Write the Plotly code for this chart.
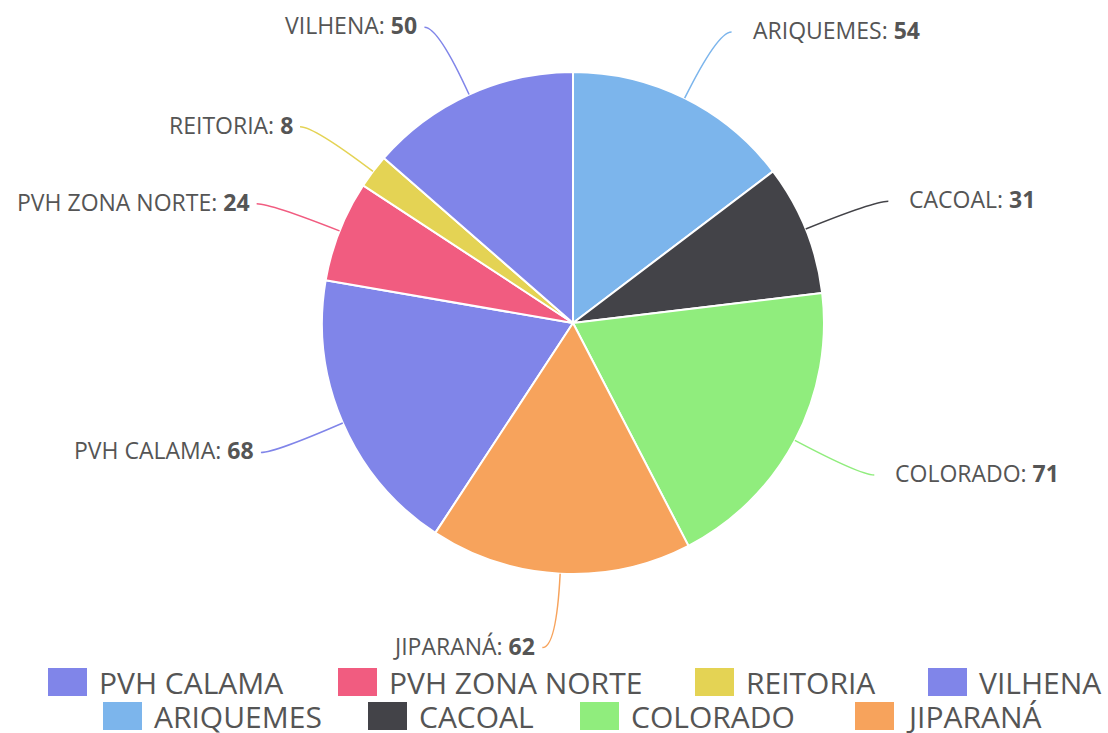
import math
import plotly.graph_objects as go

# ---------------- data ----------------
labels = ["PVH CALAMA", "PVH ZONA NORTE", "REITORIA", "VILHENA",
          "ARIQUEMES", "CACOAL", "COLORADO", "JIPARANÁ"]
values = [68, 24, 8, 50, 54, 31, 71, 62]
colors = ["#8085e9", "#f15c80", "#e4d354", "#8085e9",
          "#7cb5ec", "#434348", "#90ed7d", "#f7a35c"]
first_at_top = "ARIQUEMES"

# ---------------- layout constants (pixels) ----------------
W, H = 1108, 733
CX, CY, R = 573, 323, 251
LEAD1, LEAD2 = 74, 14
GAP_RIGHT, GAP_LEFT = 19, 5
LABEL_FONT = "Open Sans, DejaVu Sans, sans-serif"
TEXT_COLOR = "#555555"

legend_rows = [[0, 1, 2, 3], [4, 5, 6, 7]]
legend_row_y = [682, 716]
legend_x = [[48, 338, 695, 928], [103, 368, 580, 855]]
SQ_W, SQ_H = 39, 28


def px(x):
    return x / W


def py(y):
    return 1 - y / H


total = sum(values)
idx0 = labels.index(first_at_top)
before = sum(values[:idx0])
rotation = -before / total * 360.0

fig = go.Figure()
fig.add_trace(go.Pie(
    labels=labels,
    values=values,
    sort=False,
    direction="clockwise",
    rotation=rotation,
    marker=dict(colors=colors, line=dict(color="white", width=2)),
    textinfo="none",
    showlegend=False,
    domain=dict(x=[px(CX - R), px(CX + R)], y=[py(CY + R), py(CY - R)]),
))

shapes = []
annotations = []
cum = 0.0
for lab, val, col in zip(labels, values, colors):
    mid = rotation + (cum + val / 2) / total * 360.0
    cum += val
    a = math.radians(mid)
    s, c = math.sin(a), math.cos(a)
    x0, y0 = CX + R * s, CY - R * c
    x1, y1 = CX + (R + LEAD1) * s, CY - (R + LEAD1) * c
    sign = 1 if s >= 0 else -1
    x2, y2 = x1 + sign * LEAD2, y1
    path = "M {:.5f},{:.5f} Q {:.5f},{:.5f} {:.5f},{:.5f}".format(
        px(x0), py(y0), px(x1), py(y1), px(x2), py(y2))
    shapes.append(dict(type="path", xref="paper", yref="paper", path=path,
                       line=dict(color=col, width=1.5)))
    gap = GAP_RIGHT if sign > 0 else GAP_LEFT
    annotations.append(dict(
        x=px(x2 + sign * gap), y=py(y2 - 2), xref="paper", yref="paper",
        xanchor="left" if sign > 0 else "right", yanchor="middle",
        text="{}: <b>{}</b>".format(lab, val), showarrow=False,
        font=dict(family=LABEL_FONT, size=23, color=TEXT_COLOR)))

# custom legend
for r, row in enumerate(legend_rows):
    yc = legend_row_y[r]
    for k, i in enumerate(row):
        xl = legend_x[r][k]
        shapes.append(dict(type="rect", xref="paper", yref="paper",
                           x0=px(xl), x1=px(xl + SQ_W),
                           y0=py(yc + SQ_H / 2), y1=py(yc - SQ_H / 2),
                           fillcolor=colors[i], line=dict(width=0)))
        annotations.append(dict(
            x=px(xl + SQ_W + 10), y=py(yc), xref="paper", yref="paper",
            xanchor="left", yanchor="middle", text=labels[i], showarrow=False,
            font=dict(family=LABEL_FONT, size=30, color=TEXT_COLOR)))

fig.update_layout(
    width=W, height=H,
    margin=dict(l=0, r=0, t=0, b=0),
    paper_bgcolor="white", plot_bgcolor="white",
    shapes=shapes, annotations=annotations,
)

fig.write_html("out.html", config={"displayModeBar": False},
               post_script="document.body.style.margin='0';")
